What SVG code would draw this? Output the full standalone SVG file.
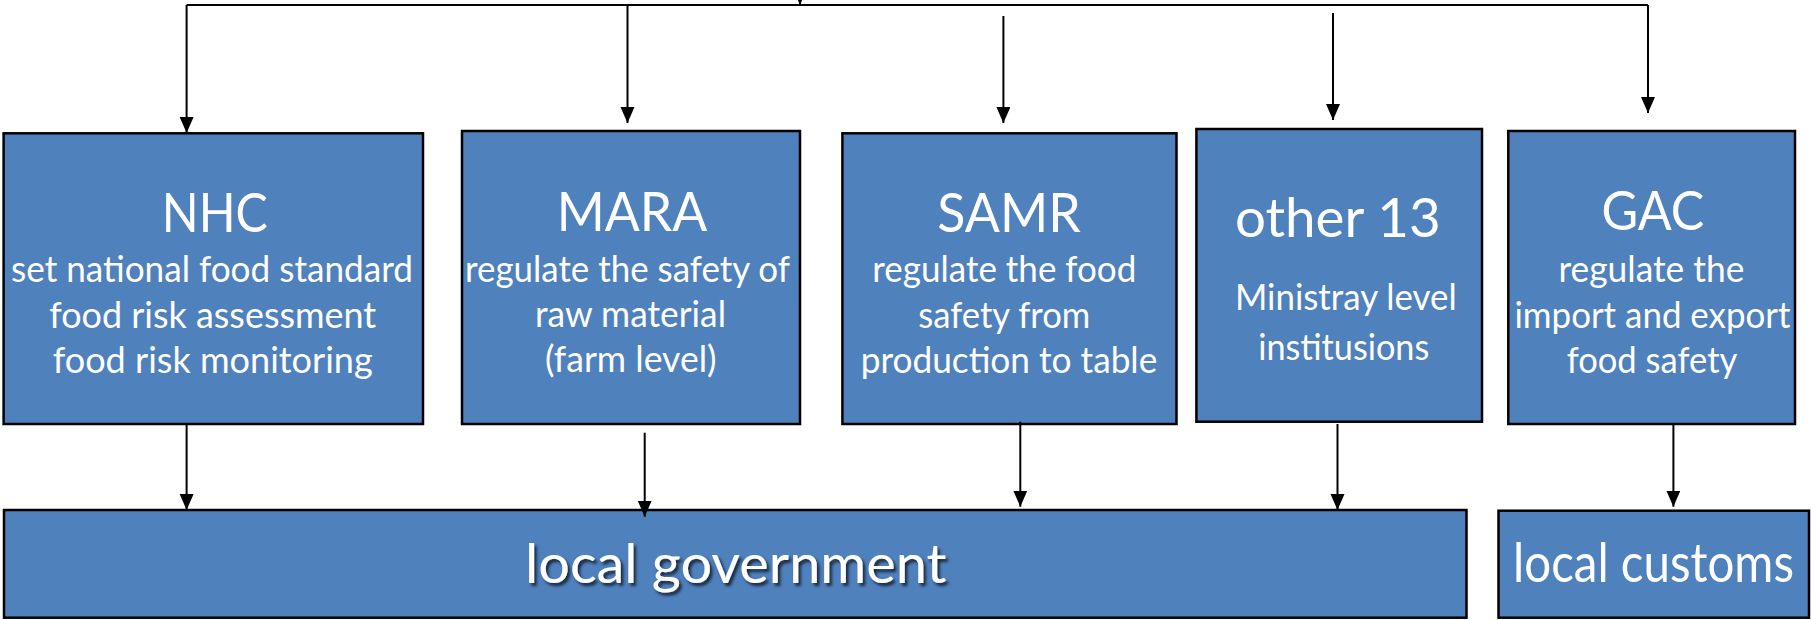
<svg xmlns="http://www.w3.org/2000/svg" width="1811" height="620" viewBox="0 0 1811 620">
<style>
.box{fill:#4F81BD;stroke:#000;stroke-width:2.5}
.t{font-family:Lato,"Liberation Sans",sans-serif;fill:#fff;text-anchor:middle}
.title{font-size:54px}
.sub{font-size:36px}
.big{font-size:55px}
.ln{stroke:#000;stroke-width:2;fill:none}
.ar{stroke:#000;stroke-width:2;fill:none;marker-end:url(#ah)}
</style>
<defs>
<marker id="ah" markerUnits="userSpaceOnUse" markerWidth="17" markerHeight="15" refX="16" refY="7" orient="auto">
<path d="M0,0 L16,7 L0,14 z" fill="#000"/>
</marker>
<filter id="sh" x="-5%" y="-20%" width="110%" height="150%">
<feDropShadow dx="2.5" dy="3" stdDeviation="1.5" flood-color="#000" flood-opacity="0.7"/>
</filter>
</defs>

<g id="node-nhc">
<rect class="box" x="3.6" y="133.3" width="419.4" height="290.7"/>
<text class="t title" x="214.8" y="231.7" textLength="106" lengthAdjust="spacingAndGlyphs">NHC</text>
<text class="t sub" x="212" y="281.7" textLength="402" lengthAdjust="spacingAndGlyphs">set national food standard</text>
<text class="t sub" x="212.7" y="327.7" textLength="327" lengthAdjust="spacingAndGlyphs">food risk  assessment</text>
<text class="t sub" x="212.7" y="373.3" textLength="320" lengthAdjust="spacingAndGlyphs">food risk  monitoring</text>
</g>

<g id="node-mara">
<rect class="box" x="462" y="131" width="338" height="293"/>
<text class="t title" x="632" y="230.7" textLength="150.6" lengthAdjust="spacingAndGlyphs">MARA</text>
<text class="t sub" x="627.5" y="281.7" textLength="325" lengthAdjust="spacingAndGlyphs">regulate the safety of</text>
<text class="t sub" x="630.5" y="326.7" textLength="191" lengthAdjust="spacingAndGlyphs">raw material</text>
<text class="t sub" x="630.8" y="371.5" textLength="171.7" lengthAdjust="spacingAndGlyphs">(farm level)</text>
</g>

<g id="node-samr">
<rect class="box" x="842.4" y="133.3" width="334.1" height="290.7"/>
<text class="t title" x="1009" y="231.7" textLength="143.5" lengthAdjust="spacingAndGlyphs">SAMR</text>
<text class="t sub" x="1004.3" y="281.7" textLength="264" lengthAdjust="spacingAndGlyphs">regulate the food</text>
<text class="t sub" x="1004.3" y="327.7" textLength="172" lengthAdjust="spacingAndGlyphs">safety from</text>
<text class="t sub" x="1009" y="373.3" textLength="296.6" lengthAdjust="spacingAndGlyphs">production to table</text>
</g>

<g id="node-other13">
<rect class="box" x="1196.4" y="129" width="285.6" height="292.7"/>
<text class="t title" x="1337.8" y="236.7" textLength="205.7" lengthAdjust="spacingAndGlyphs">other 13</text>
<text class="t sub" x="1345.8" y="310" textLength="221.7" lengthAdjust="spacingAndGlyphs">Ministray level</text>
<text class="t sub" x="1343.8" y="360" textLength="171" lengthAdjust="spacingAndGlyphs">institusions</text>
</g>

<g id="node-gac">
<rect class="box" x="1508.3" y="131" width="286.7" height="293"/>
<text class="t title" x="1652.9" y="230" textLength="103" lengthAdjust="spacingAndGlyphs">GAC</text>
<text class="t sub" x="1651.4" y="281.7" textLength="186" lengthAdjust="spacingAndGlyphs">regulate the</text>
<text class="t sub" x="1652.5" y="327.7" textLength="276" lengthAdjust="spacingAndGlyphs">import and export</text>
<text class="t sub" x="1652" y="373.3" textLength="170.7" lengthAdjust="spacingAndGlyphs">food safety</text>
</g>

<g id="node-local-government">
<rect class="box" x="4" y="510" width="1462.5" height="107.7"/>
<text class="t big" x="735.8" y="583.3" textLength="421.5" lengthAdjust="spacingAndGlyphs" filter="url(#sh)">local government</text>
</g>

<g id="node-local-customs">
<rect class="box" x="1498.5" y="510.7" width="310.5" height="107"/>
<text class="t big" x="1653.5" y="581.7" textLength="281" lengthAdjust="spacingAndGlyphs">local customs</text>
</g>

<g id="connectors">
<path class="ln" d="M186.6,5 L1648,5"/>
<path class="ar" d="M800,-30 L800,5"/>
<path class="ar" d="M186.6,5 L186.6,133"/>
<path class="ar" d="M627.5,5 L627.5,123"/>
<path class="ar" d="M1003.4,16 L1003.4,123"/>
<path class="ar" d="M1333,13 L1333,120"/>
<path class="ar" d="M1648,5 L1648,113"/>
<path class="ar" d="M186.6,424 L186.6,510"/>
<path class="ar" d="M644.7,432.7 L644.7,516.7"/>
<path class="ar" d="M1020.3,421.7 L1020.3,506.7"/>
<path class="ar" d="M1337.5,424 L1337.5,510"/>
<path class="ar" d="M1673.4,424 L1673.4,506.7"/>
</g>
</svg>
